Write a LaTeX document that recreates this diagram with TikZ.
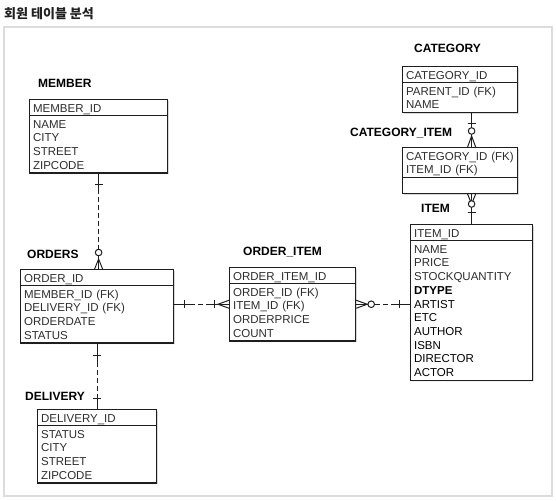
\documentclass[tikz,border=0pt]{standalone}
\usepackage{fontspec}
\setmainfont{Liberation Sans}
\newfontfamily\krfont{Noto Sans CJK KR}
\usepackage{xcolor}
\usetikzlibrary{shapes.multipart}
\usetikzlibrary{shadows}
\usetikzlibrary{calc}
\definecolor{tline}{HTML}{1E1E1E}
\definecolor{ttext}{HTML}{2E2E2E}
\definecolor{framegray}{HTML}{DCDCDC}
\newcommand{\rw}{\rule[-2.4pt]{0pt}{13.7pt}}

\begin{document}
\begin{tikzpicture}[x=1pt,y=-1pt,
  tbl/.style={rectangle split, rectangle split parts=2, draw=tline, line width=1.2pt, fill=white,
    inner xsep=3.5pt, inner ysep=0.6pt, align=left, anchor=north west, text=ttext,
    font=\fontsize{11.5}{13.7}\selectfont,
    drop shadow={shadow xshift=1.3pt,shadow yshift=-1.3pt,opacity=0.3}},
  tname/.style={anchor=base west, inner sep=0pt, font=\fontsize{12}{13}\selectfont\bfseries},
  rel/.style={draw=tline, line width=1pt},
  dashrel/.style={rel, dash pattern=on 5pt off 3pt}]

\useasboundingbox (0,0) rectangle (556,500);
\node[anchor=base west, inner sep=0pt, text=black!87, font=\krfont\bfseries\fontsize{13}{15}\selectfont] (title) at (4,19) {회원 테이블 분석};
\draw[draw=framegray, line width=1.4pt] (4,27) rectangle (552,496);

% tables
\node[tname] (membername) at (38,88) {MEMBER};
\node[tbl, text width=131pt] (member) at (29,99)
  {\rw MEMBER\_ID \nodepart{two}\rw NAME\\\rw CITY\\\rw STREET\\\rw ZIPCODE};

\node[tname] (ordersname) at (27,258) {ORDERS};
\node[tbl, text width=146pt] (orders) at (20,269)
  {\rw ORDER\_ID \nodepart{two}\rw MEMBER\_ID (FK)\\\rw DELIVERY\_ID (FK)\\\rw ORDERDATE\\\rw STATUS};

\node[tname] (deliveryname) at (25,400) {DELIVERY};
\node[tbl, text width=112pt] (delivery) at (37,409)
  {\rw DELIVERY\_ID \nodepart{two}\rw STATUS\\\rw CITY\\\rw STREET\\\rw ZIPCODE};

\node[tname] (orditemname) at (243,255) {ORDER\_ITEM};
\node[tbl, text width=119pt] (orditem) at (229,267)
  {\rw ORDER\_ITEM\_ID \nodepart{two}\rw ORDER\_ID (FK)\\\rw ITEM\_ID (FK)\\\rw ORDERPRICE\\\rw COUNT};

\node[tname] (categoryname) at (414,53) {CATEGORY};
\node[tbl, text width=108pt] (category) at (402,66)
  {\rw CATEGORY\_ID \nodepart{two}\rw PARENT\_ID (FK)\\\rw NAME};

\node[tname] (catitemname) at (350,136) {CATEGORY\_ITEM};
\node[tbl, text width=108pt] (catitem) at (402,147)
  {\rw CATEGORY\_ID (FK)\\\rw ITEM\_ID (FK) \nodepart{two}\rw};

\node[tname] (itemname) at (421,212) {ITEM};
\node[tbl, text width=115pt] (item) at (410,224)
  {\rw ITEM\_ID \nodepart{two}\rw NAME\\\rw PRICE\\\rw STOCKQUANTITY\\\rw\textcolor{black}{\bfseries DTYPE}\\\rw ARTIST\\\rw ETC\\\rw AUTHOR\\\rw ISBN\\\rw DIRECTOR\\\rw ACTOR};

% MEMBER -- ORDERS
\coordinate (r1b) at (member.south |- orders.north);
\draw[rel] (member.south) -- ++(0,15) coordinate (r1a);
\draw[dashrel] (r1a) -- ($(r1b)+(0,-21)$);
\draw[rel] ($(r1b)+(0,-21)$) -- (r1b);
\draw[rel] ($(member.south)+(-4,11)$) -- ++(8,0);
\draw[rel] ($(r1b)+(-4,0)$) -- ++(4,-10) -- ++(4,10);
\draw[rel,fill=white] ($(r1b)+(0,-16.5)$) circle (3.3pt);

% ORDERS -- DELIVERY
\coordinate (r2b) at (orders.south |- delivery.north);
\draw[rel] (orders.south) -- ++(0,18) coordinate (r2a);
\draw[dashrel] (r2a) -- ($(r2b)+(0,-14)$);
\draw[rel] ($(r2b)+(0,-14)$) -- (r2b);
\draw[rel] ($(orders.south)+(-4,12)$) -- ++(8,0);
\draw[rel] ($(r2b)+(-4,-11)$) -- ++(8,0);

% ORDERS -- ORDER_ITEM
\coordinate (r3a) at (orditem.west -| orders.east);
\draw[rel] (r3a) -- ++(16,0) coordinate (r3c);
\draw[dashrel] (r3c) -- ($(orditem.west)+(-19,0)$);
\draw[rel] ($(orditem.west)+(-19,0)$) -- (orditem.west);
\draw[rel] ($(r3a)+(10,-4)$) -- ++(0,8);
\draw[rel] ($(orditem.west)+(-15,-4)$) -- ++(0,8);
\draw[rel] ($(orditem.west)+(0,-4)$) -- ++(-11,4) -- ++(11,4);

% ORDER_ITEM -- ITEM
\coordinate (r4b) at (orditem.east -| item.west);
\draw[rel] (orditem.east) -- ++(12,0);
\draw[dashrel] ($(orditem.east)+(18.3,0)$) -- ($(r4b)+(-14,0)$);
\draw[rel] ($(r4b)+(-14,0)$) -- (r4b);
\draw[rel] ($(orditem.east)+(0,-4)$) -- ++(11,4) -- ++(-11,4);
\draw[rel,fill=white] ($(orditem.east)+(15,0)$) circle (3.3pt);
\draw[rel] ($(r4b)+(-11,-4)$) -- ++(0,8);

% CATEGORY -- CATEGORY_ITEM
\coordinate (r5a) at (category.south -| item.north);
\coordinate (r5b) at (catitem.north -| item.north);
\draw[rel] (r5a) -- (r5b);
\draw[rel] ($(r5a)+(-4,10)$) -- ++(8,0);
\draw[rel] ($(r5b)+(-4,0)$) -- ++(4,-11) -- ++(4,11);
\draw[rel,fill=white] ($(r5b)+(0,-16)$) circle (3.3pt);

% CATEGORY_ITEM -- ITEM
\coordinate (r6a) at (catitem.south -| item.north);
\draw[rel] (r6a) -- (item.north);
\draw[rel] ($(r6a)+(-4,0)$) -- ++(4,10) -- ++(4,-10);
\draw[rel,fill=white] ($(item.north)+(0,-20)$) circle (3.3pt);
\draw[rel] ($(item.north)+(-4,-12)$) -- ++(8,0);

\end{tikzpicture}
\end{document}
